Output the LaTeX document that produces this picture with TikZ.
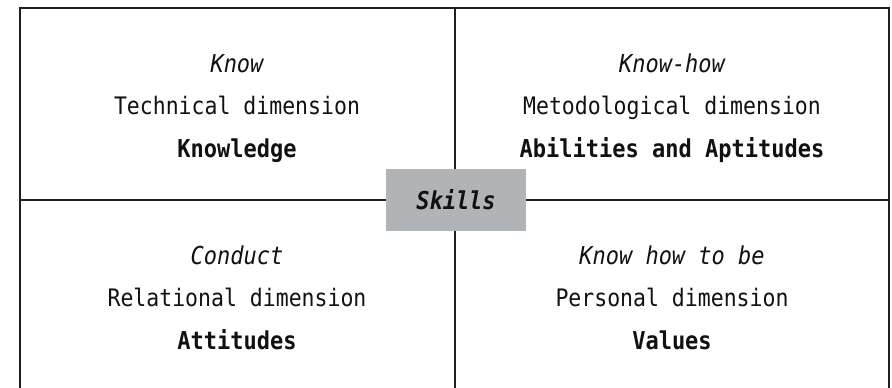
\documentclass[tikz,border=0pt]{standalone}
\usepackage{fontspec}
\usepackage{graphicx}
\setmainfont{DejaVu Sans Mono}
\definecolor{gridc}{HTML}{1E1E1E}
\definecolor{skillfill}{HTML}{B1B4B7}
\definecolor{txt}{HTML}{111111}
\newcommand{\tallbi}[1]{\scalebox{1}[1.12]{#1}}
\tikzset{
  gridline/.style={draw=gridc, line width=2.2pt},
  lbl/.style={anchor=base, inner sep=0pt, text=txt},
  ital/.style={lbl, font=\fontsize{22}{26}\selectfont\itshape},
  reg/.style={lbl, font=\fontsize{21.5}{26}\selectfont},
  bld/.style={lbl, font=\fontsize{22}{26}\selectfont\bfseries},
  skillbox/.style={fill=skillfill, draw=none, minimum width=140pt, minimum height=62pt, inner sep=0pt, text=txt,
    font=\fontsize{22}{26}\selectfont\bfseries\itshape}
}
\begin{document}
\begin{tikzpicture}[x=1pt,y=-1pt]
\useasboundingbox (0,0) rectangle (892,388);
\fill[white] (0,0) rectangle (892,388);
% outer frame (open at the bottom)
\draw[gridline] (20,395) -- (20,8) -- (889,8) -- (889,395);
% dividers
\draw[gridline] (455,8) -- (455,395);
\draw[gridline] (20,200) -- (889,200);
% centre label
\node[skillbox] (skills) at (456,200) {\tallbi{Skills}};
% top-left
\node[ital] (tl1) at (237,72) {\tallbi{Know}};
\node[reg]  (tl2) at (237,114) {\tallbi{Technical dimension}};
\node[bld]  (tl3) at (237,157) {\tallbi{Knowledge}};
% top-right
\node[ital] (tr1) at (672,72) {\tallbi{Know-how}};
\node[reg]  (tr2) at (672,114) {\tallbi{Metodological dimension}};
\node[bld]  (tr3) at (672,157) {\tallbi{Abilities and Aptitudes}};
% bottom-left
\node[ital] (bl1) at (237,264) {\tallbi{Conduct}};
\node[reg]  (bl2) at (237,306) {\tallbi{Relational dimension}};
\node[bld]  (bl3) at (237,349) {\tallbi{Attitudes}};
% bottom-right
\node[ital] (br1) at (672,264) {\tallbi{Know how to be}};
\node[reg]  (br2) at (672,306) {\tallbi{Personal dimension}};
\node[bld]  (br3) at (672,349) {\tallbi{Values}};
\end{tikzpicture}
\end{document}
